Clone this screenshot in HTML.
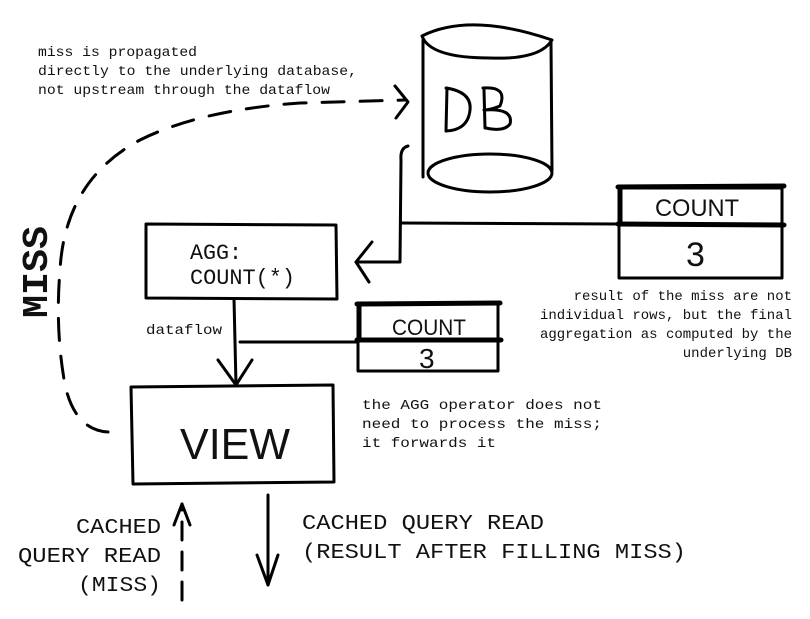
<!DOCTYPE html>
<html><head><meta charset="utf-8"><style>
html,body{margin:0;padding:0;background:#fff}
svg{display:block}
text{font-family:"Liberation Mono",monospace;fill:#111}
.h{font-family:"Liberation Sans",sans-serif}
</style></head><body>
<svg width="810" height="619" viewBox="0 0 810 619" xmlns="http://www.w3.org/2000/svg">
<rect width="810" height="619" fill="#fff"/>
<g stroke="#000" fill="none" stroke-width="3" stroke-linecap="round" stroke-linejoin="round">
<path d="M422 36 Q470 12 552 40 Q540 60 490 58 Q430 58 422 36 Z"/>
<path d="M423 40 L423 177"/>
<path d="M551 42 L552 170"/>
<ellipse cx="490" cy="173" rx="62" ry="19"/>
<path d="M447 88 L446 131 M446 88 Q472 92 470 110 Q468 130 446 131"/>
<path d="M484 90 L485 128 M483 88 Q508 86 500 106 Q490 110 484 110 Q514 108 510 124 Q504 132 486 128"/>
<path d="M408 146 Q400 148 401 160 L400 262 L356 262"/>
<path d="M372 242 L356 262 L369 282"/>
<path d="M401 223 L620 224"/>
<rect x="619" y="188" width="163" height="90"/>
<path d="M618 187 L784 186 M618 224 L784 225" stroke-width="5"/>
<path d="M620 188 L620 224" stroke-width="5"/>
<path d="M146 224 L336 225 L337 299 L146 298 Z"/>
<path d="M234 299 L236 385"/>
<path d="M218 360 L236 385 L252 360"/>
<path d="M240 342 L357 342"/>
<rect x="358" y="304" width="140" height="67"/>
<path d="M357 304 L500 303 M357 340 L501 340" stroke-width="5"/>
<path d="M359 305 L359 340" stroke-width="5"/>
<path d="M131 387 L333 385 L334 482 L133 484 Z"/>
<path d="M108 432 Q75 430 65 385 Q55 330 60 270 Q65 180 140 140 Q200 110 300 103 L405 100" stroke-dasharray="22 16"/>
<path d="M395 86 L408 102 L396 118"/>
<path d="M182 600 L182 504" stroke-dasharray="18 12"/>
<path d="M174 525 L182 504 L190 525"/>
<path d="M268 495 L268 585"/>
<path d="M257 555 L268 585 L278 555"/>
</g>
<text x="180" y="459" font-size="44" class="h" textLength="110" lengthAdjust="spacingAndGlyphs">VIEW</text>
<text x="655" y="216" font-size="24" class="h" textLength="84" lengthAdjust="spacingAndGlyphs">COUNT</text>
<text x="686" y="266" font-size="34" class="h">3</text>
<text x="392" y="335" font-size="22" class="h" textLength="74" lengthAdjust="spacingAndGlyphs">COUNT</text>
<text x="419" y="368" font-size="28" class="h">3</text>
<text x="38" y="56" font-size="14" textLength="159" lengthAdjust="spacingAndGlyphs">miss is propagated</text>
<text x="38" y="75" font-size="14" textLength="319" lengthAdjust="spacingAndGlyphs">directly to the underlying database,</text>
<text x="38" y="94" font-size="14" textLength="292" lengthAdjust="spacingAndGlyphs">not upstream through the dataflow</text>
<text x="190" y="259" font-size="22" textLength="52" lengthAdjust="spacingAndGlyphs">AGG:</text>
<text x="190" y="284" font-size="22" textLength="105" lengthAdjust="spacingAndGlyphs">COUNT(*)</text>
<text x="146" y="334" font-size="14" textLength="76" lengthAdjust="spacingAndGlyphs">dataflow</text>
<text x="792" y="300" font-size="14" text-anchor="end">result of the miss are not</text>
<text x="792" y="319" font-size="14" text-anchor="end">individual rows, but the final </text>
<text x="792" y="338" font-size="14" text-anchor="end">aggregation as computed by the</text>
<text x="792" y="357" font-size="14" text-anchor="end">underlying DB</text>
<text x="362" y="409" font-size="14" textLength="240" lengthAdjust="spacingAndGlyphs">the AGG operator does not</text>
<text x="362" y="428" font-size="14" textLength="240" lengthAdjust="spacingAndGlyphs">need to process the miss;</text>
<text x="362" y="447" font-size="14" textLength="134" lengthAdjust="spacingAndGlyphs">it forwards it</text>
<text x="161" y="533" font-size="21" text-anchor="end" textLength="85" lengthAdjust="spacingAndGlyphs">CACHED</text>
<text x="161" y="562" font-size="21" text-anchor="end" textLength="143" lengthAdjust="spacingAndGlyphs">QUERY READ</text>
<text x="161" y="591" font-size="21" text-anchor="end" textLength="83" lengthAdjust="spacingAndGlyphs">(MISS)</text>
<text x="302" y="529" font-size="21" textLength="242" lengthAdjust="spacingAndGlyphs">CACHED QUERY READ</text>
<text x="302" y="558" font-size="21" textLength="384" lengthAdjust="spacingAndGlyphs">(RESULT AFTER FILLING MISS)</text>
<text transform="translate(47,318) rotate(-90)" font-size="36" font-weight="bold" textLength="92" lengthAdjust="spacingAndGlyphs">MISS</text>
</svg>
</body></html>
